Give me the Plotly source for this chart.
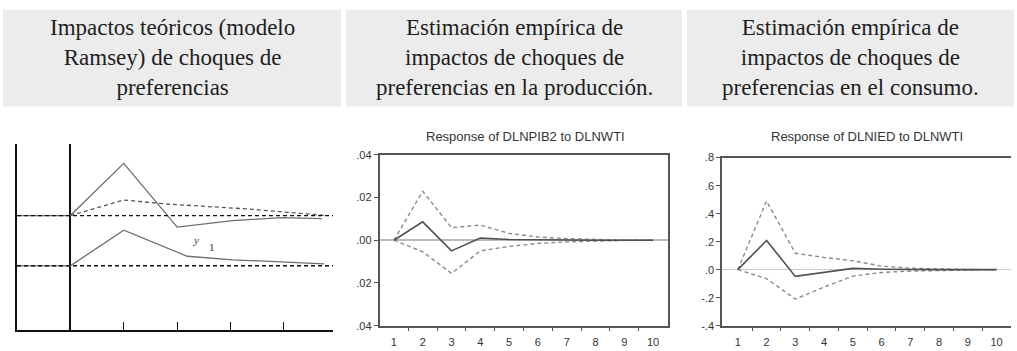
import plotly.graph_objects as go

W, H = 1017, 351

# ---------------- data ----------------
headers = [
    "Impactos teóricos (modelo<br>Ramsey) de choques de<br>preferencias",
    "Estimación empírica de<br>impactos de choques de<br>preferencias en la producción.",
    "Estimación empírica de<br>impactos de choques de<br>preferencias en el consumo.",
]

# Panel 1: theoretical (Ramsey) responses, arbitrary units
p1_baselines = [1.0, 0.0]
p1_upper_solid_x = [-1, 0, 1, 2, 3.04, 3.96, 4.71]
p1_upper_solid_y = [1.0, 1.0, 2.04, 0.77, 0.90, 0.96, 0.94]
p1_upper_dash_x = [0, 1, 1.8, 3.35, 4.8]
p1_upper_dash_y = [1.0, 1.31, 1.23, 1.13, 1.0]
p1_lower_solid_x = [-1, 0, 1, 2.19, 3.04, 3.96, 4.75]
p1_lower_solid_y = [0.0, 0.0, 0.71, 0.19, 0.12, 0.08, 0.04]

periods = [1, 2, 3, 4, 5, 6, 7, 8, 9, 10]

# Panel 2: Response of DLNPIB2 to DLNWTI
p2_resp = [0.0, 0.0086, -0.0050, 0.0010, 0.0003, 0.0001, 0.0, 0.0, 0.0, 0.0]
p2_upper = [0.0, 0.0229, 0.0059, 0.0071, 0.0032, 0.0015, 0.0007, 0.0003, 0.0001, 0.0]
p2_lower = [0.0, -0.0054, -0.0155, -0.0050, -0.0029, -0.0015, -0.0008, -0.0003, -0.0001, 0.0]
p2_ticks = [-0.04, -0.02, 0.0, 0.02, 0.04]
p2_ticktext = [".04", ".02", ".00", ".02", ".04"]

# Panel 3: Response of DLNIED to DLNWTI
p3_resp = [0.0, 0.209, -0.048, -0.020, 0.009, 0.003, 0.0, 0.0, 0.0, 0.0]
p3_upper = [0.0, 0.49, 0.117, 0.087, 0.064, 0.025, 0.010, 0.004, 0.001, 0.0]
p3_lower = [0.0, -0.064, -0.21, -0.124, -0.046, -0.020, -0.010, -0.005, -0.002, 0.0]
p3_ticks = [-0.4, -0.2, 0.0, 0.2, 0.4, 0.6, 0.8]
p3_ticktext = ["-.4", "-.2", ".0", ".2", ".4", ".6", ".8"]

half_ticks = [1.5, 2.5, 3.5, 4.5, 5.5, 6.5, 7.5, 8.5, 9.5]

# ---------------- figure ----------------
def px_x(p):
    return p / W

def px_y(p):
    return 1 - p / H

fig = go.Figure()

SOLID1 = "#6e6e6e"

# Panel 1 traces
fig.add_trace(go.Scatter(x=p1_upper_solid_x, y=p1_upper_solid_y, mode="lines",
                         line=dict(color=SOLID1, width=1.3), xaxis="x", yaxis="y"))
fig.add_trace(go.Scatter(x=p1_upper_dash_x, y=p1_upper_dash_y, mode="lines",
                         line=dict(color="#555555", width=1.3, dash="4px,3px"), xaxis="x", yaxis="y"))
fig.add_trace(go.Scatter(x=p1_lower_solid_x, y=p1_lower_solid_y, mode="lines",
                         line=dict(color=SOLID1, width=1.3), xaxis="x", yaxis="y"))

# Panel 2 traces
RESP = "#505050"
BAND = "#8a8a8a"
fig.add_trace(go.Scatter(x=periods, y=p2_upper, mode="lines",
                         line=dict(color=BAND, width=1.4, dash="4px,3px"), xaxis="x2", yaxis="y2"))
fig.add_trace(go.Scatter(x=periods, y=p2_lower, mode="lines",
                         line=dict(color=BAND, width=1.4, dash="4px,3px"), xaxis="x2", yaxis="y2"))
fig.add_trace(go.Scatter(x=periods, y=p2_resp, mode="lines",
                         line=dict(color=RESP, width=1.6), xaxis="x2", yaxis="y2"))

# Panel 3 traces
fig.add_trace(go.Scatter(x=periods, y=p3_upper, mode="lines",
                         line=dict(color=BAND, width=1.4, dash="4px,3px"), xaxis="x3", yaxis="y3"))
fig.add_trace(go.Scatter(x=periods, y=p3_lower, mode="lines",
                         line=dict(color=BAND, width=1.4, dash="4px,3px"), xaxis="x3", yaxis="y3"))
fig.add_trace(go.Scatter(x=periods, y=p3_resp, mode="lines",
                         line=dict(color=RESP, width=1.6), xaxis="x3", yaxis="y3"))

# Header band shapes
col_edges = [(3, 341), (346, 682), (687, 1014)]
shapes = []
for (a, b) in col_edges:
    shapes.append(dict(type="rect", xref="paper", yref="paper",
                       x0=px_x(a), x1=px_x(b), y0=px_y(104), y1=px_y(4),
                       fillcolor="#ececec", line=dict(width=0), layer="below"))
# Baselines of panel 1 (through the axis scale)
for b in p1_baselines:
    shapes.append(dict(type="line", xref="x domain", yref="y", x0=0, x1=1, y0=b, y1=b,
                       line=dict(color="#111111", width=1.4, dash="4px,3px"), layer="above"))

annotations = []
centers = [172, 514, 850]
for c, t in zip(centers, headers):
    annotations.append(dict(text=t, x=px_x(c), y=px_y(53), xref="paper", yref="paper",
                            xanchor="center", yanchor="middle", showarrow=False,
                            align="center",
                            font=dict(family="Liberation Serif", size=23, color="#1e1e1e")))

# Panel titles
title_font = dict(family="Liberation Sans", size=13, color="#333333")
annotations.append(dict(text="Response of DLNPIB2 to DLNWTI", x=px_x(525), y=px_y(135),
                        xref="paper", yref="paper", showarrow=False, xanchor="center",
                        yanchor="middle", font=title_font))
annotations.append(dict(text="Response of DLNIED to DLNWTI", x=px_x(867), y=px_y(135),
                        xref="paper", yref="paper", showarrow=False, xanchor="center",
                        yanchor="middle", font=title_font))

# y1 label in panel 1
annotations.append(dict(text="<i>y</i>", x=2.36, y=0.52, xref="x", yref="y", showarrow=False,
                        font=dict(family="Liberation Serif", size=11, color="#333333")))
annotations.append(dict(text="1", x=2.65, y=0.37, xref="x", yref="y", showarrow=False,
                        font=dict(family="Liberation Serif", size=11, color="#333333")))

axis_font = dict(family="Liberation Sans", size=11, color="#333333")

fig.update_layout(
    width=W, height=H,
    margin=dict(l=0, r=0, t=0, b=0),
    paper_bgcolor="white", plot_bgcolor="white",
    showlegend=False,
    shapes=shapes,
    annotations=annotations,
    # Panel 1
    xaxis=dict(domain=[px_x(17), px_x(333)], range=[-1, 4.92],
               showline=True, linecolor="#111111", linewidth=1.5,
               tickvals=[1, 2, 3, 4], ticktext=["", "", "", ""], ticks="inside",
               ticklen=8, tickwidth=1.3, tickcolor="#111111",
               showgrid=False, zeroline=True, zerolinecolor="#111111", zerolinewidth=1.5,
               fixedrange=True),
    yaxis=dict(domain=[px_y(335), px_y(143)], range=[-1.269, 2.423],
               showline=True, linecolor="#111111", linewidth=1.5,
               showticklabels=False, ticks="", showgrid=False, zeroline=False,
               anchor="x"),
    # Panel 2
    xaxis2=dict(domain=[px_x(379.5), px_x(667.5)], range=[0.5, 10.5],
                anchor="y2", showline=True, mirror=True, linecolor="#555555", linewidth=1.5,
                tickvals=periods, ticks="", tickfont=axis_font, ticklabelstandoff=5,
                showgrid=False, zeroline=False,
                minor=dict(tickvals=half_ticks, ticks="outside", ticklen=4, tickwidth=1,
                           tickcolor="#555555", showgrid=False)),
    yaxis2=dict(domain=[px_y(331), px_y(154)], range=[-0.04, 0.04],
                anchor="x2", showline=True, mirror=True, linecolor="#555555", linewidth=1.5,
                tickvals=p2_ticks, ticktext=p2_ticktext, ticks="outside", ticklen=4,
                tickcolor="#555555", tickfont=axis_font, showgrid=False,
                zeroline=True, zerolinecolor="#bbbbbb", zerolinewidth=2),
    # Panel 3
    xaxis3=dict(domain=[px_x(722), px_x(1011)], range=[0.45, 10.5],
                anchor="y3", showline=True, mirror=True, linecolor="#555555", linewidth=1.5,
                tickvals=periods, ticks="", tickfont=axis_font, ticklabelstandoff=5,
                showgrid=False, zeroline=False,
                minor=dict(tickvals=half_ticks, ticks="outside", ticklen=4, tickwidth=1,
                           tickcolor="#555555", showgrid=False)),
    yaxis3=dict(domain=[px_y(331), px_y(157)], range=[-0.4, 0.8],
                anchor="x3", showline=True, mirror=False, linecolor="#555555", linewidth=1.5,
                tickvals=p3_ticks, ticktext=p3_ticktext, ticks="outside", ticklen=4,
                tickcolor="#555555", tickfont=axis_font, showgrid=False,
                zeroline=True, zerolinecolor="#cccccc", zerolinewidth=1),
)

fig.write_html("out.html")
